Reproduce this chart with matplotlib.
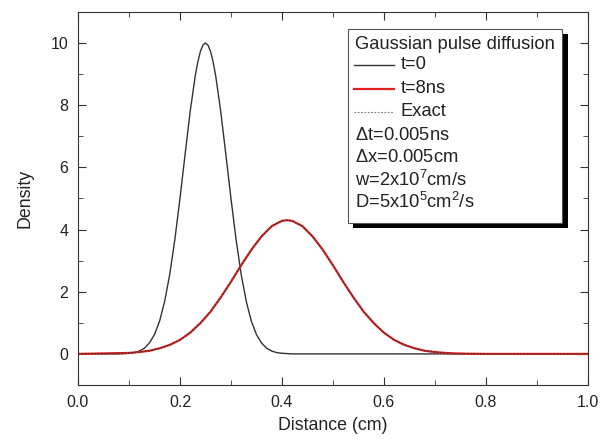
import matplotlib.pyplot as plt
from matplotlib.patches import Rectangle
from matplotlib.lines import Line2D
from matplotlib.ticker import MultipleLocator

plt.rcParams['font.family'] = ['Liberation Sans', 'DejaVu Sans']
plt.rcParams['mathtext.fontset'] = 'custom'
plt.rcParams['mathtext.rm'] = 'Liberation Sans'

# initial pulse, t=0
x0 = [0.0, 0.08, 0.09, 0.10, 0.11, 0.12, 0.13, 0.14, 0.15, 0.16, 0.17, 0.18,
      0.19, 0.20, 0.21, 0.22, 0.23, 0.235, 0.24, 0.245, 0.25, 0.255, 0.26,
      0.265, 0.27, 0.28, 0.29, 0.30, 0.31, 0.32, 0.33, 0.34, 0.35, 0.36, 0.37,
      0.38, 0.39, 0.40, 0.41, 0.42, 1.0]
n0 = [0.0, 0.0, 0.01, 0.02, 0.04, 0.09, 0.18, 0.35, 0.62, 1.05, 1.69, 2.56,
      3.68, 5.00, 6.41, 7.79, 8.95, 9.39, 9.73, 9.93, 10.0, 9.93, 9.73,
      9.39, 8.95, 7.79, 6.41, 5.00, 3.68, 2.56, 1.69, 1.05, 0.62, 0.35, 0.18,
      0.09, 0.04, 0.02, 0.01, 0.0, 0.0]

# pulse after 8 ns (numerical and exact coincide)
x8 = [0.0, 0.10, 0.12, 0.14, 0.16, 0.18, 0.20, 0.22, 0.24, 0.26, 0.28, 0.30,
      0.32, 0.34, 0.36, 0.38, 0.40, 0.41, 0.42, 0.44, 0.46, 0.48, 0.50, 0.52,
      0.54, 0.56, 0.58, 0.60, 0.62, 0.64, 0.66, 0.68, 0.70, 0.72, 0.74, 0.76,
      0.78, 0.80, 1.0]
n8 = [0.0, 0.03, 0.06, 0.10, 0.18, 0.29, 0.45, 0.68, 0.99, 1.36, 1.82, 2.32,
      2.85, 3.35, 3.78, 4.11, 4.28, 4.30, 4.28, 4.11, 3.78, 3.35, 2.85, 2.32,
      1.82, 1.36, 0.99, 0.68, 0.45, 0.29, 0.18, 0.10, 0.06, 0.03, 0.015, 0.007,
      0.003, 0.0, 0.0]
n8_exact = n8

fig = plt.figure(figsize=(6.09, 4.41), dpi=100)
ax = fig.add_axes([0.128, 0.127, 0.8375, 0.846])

ax.plot(x0, n0, color='#333333', lw=1.0)
ax.plot(x8, n8, color='#e02020', lw=1.6)
ax.plot(x8, n8_exact, color='#333333', lw=0.8, ls=(0, (1.5, 1.5)))

ax.set_xlim(0, 1)
ax.set_ylim(-1, 11)
ax.xaxis.set_major_locator(MultipleLocator(0.2))
ax.xaxis.set_minor_locator(MultipleLocator(0.1))
ax.yaxis.set_major_locator(MultipleLocator(2))
ax.yaxis.set_minor_locator(MultipleLocator(1))
ax.set_yticks([0, 2, 4, 6, 8, 10])
ax.tick_params(which='both', direction='in', top=True, right=True,
               labelsize=11.5, color='#333333', labelcolor='#222222', pad=7)
ax.tick_params(which='major', length=6)
ax.tick_params(which='minor', length=3.5)
ax.xaxis.set_major_formatter(plt.FormatStrFormatter('%.1f'))
for s in ax.spines.values():
    s.set_color('#333333')
ax.set_xlabel('Distance (cm)', fontsize=12.8, labelpad=5, color='#222222')
ax.set_ylabel('Density', fontsize=12.8, labelpad=12, color='#222222')

# legend box with shadow
bx, by, bw, bh = 0.529, 0.434, 0.42, 0.52
ax.add_patch(Rectangle((bx + 0.011, by - 0.014), bw, bh, transform=ax.transAxes,
                       facecolor='black', edgecolor='none', zorder=5))
ax.add_patch(Rectangle((bx, by), bw, bh, transform=ax.transAxes,
                       facecolor='white', edgecolor='#555555', lw=0.8, zorder=6))

fs = 13.2
tx = 0.543
ax.text(tx, 0.912, 'Gaussian pulse diffusion', transform=ax.transAxes,
        fontsize=fs, va='center', zorder=7, color='#222222')
handles = [('t=0', 0.858, '#333333', 1.0, '-'),
           ('t=8ns', 0.794, '#e02020', 1.6, '-'),
           ('Exact', 0.732, '#777777', 0.8, (0, (1.5, 1.5)))]
for lab, yy, c, lw, ls in handles:
    ax.add_line(Line2D([0.541, 0.620], [yy, yy], transform=ax.transAxes,
                       color=c, lw=lw, ls=ls, zorder=7))
    ax.text(0.633, yy, lab, transform=ax.transAxes, fontsize=fs,
            va='center', zorder=7, color='#222222')

params = [(r'$\Delta$t=0.005ns', 0.670),
          (r'$\Delta$x=0.005cm', 0.609),
          (r'w=2x10$^{7}$cm/s', 0.550),
          (r'D=5x10$^{5}$cm$^{2}$/s', 0.491)]
for lab, yy in params:
    ax.text(tx, yy, lab, transform=ax.transAxes, fontsize=fs,
            va='center', zorder=7, color='#222222')

fig.savefig('out.png', dpi=100)
